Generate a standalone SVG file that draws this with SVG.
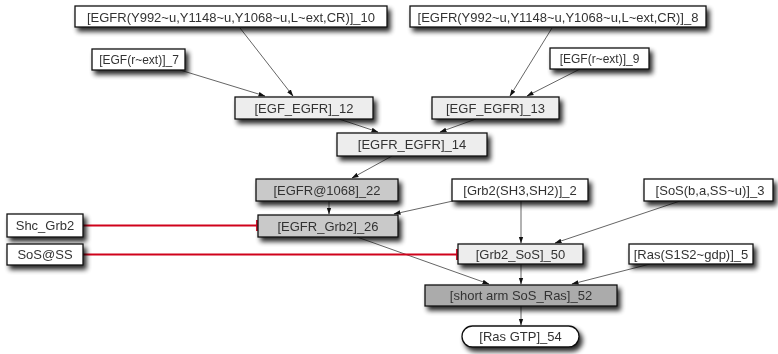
<svg xmlns="http://www.w3.org/2000/svg" width="778" height="354" viewBox="0 0 778 354">
<defs>
<filter id="sh" x="-20%" y="-40%" width="140%" height="200%">
<feGaussianBlur in="SourceAlpha" stdDeviation="2.4"/>
<feOffset dx="3" dy="4" result="b"/>
<feComponentTransfer><feFuncA type="linear" slope="0.85"/></feComponentTransfer>
<feMerge><feMergeNode/><feMergeNode in="SourceGraphic"/></feMerge>
</filter>
<marker id="ar" markerWidth="7" markerHeight="6" refX="6.5" refY="3" orient="auto" markerUnits="userSpaceOnUse">
<path d="M0,0.7 L7,3 L0,5.3 Z" fill="#111"/>
</marker>
</defs>
<style>
.n rect{stroke:#111;stroke-width:1.3}
.w{fill:#fff}
.l{fill:#ededed}
.m{fill:#c9c9c9}
.d{fill:#ababab}
text{font-family:"Liberation Sans",Arial,sans-serif;font-size:13px;fill:#333;text-anchor:middle;dominant-baseline:central}
.s{font-size:12px}
.e line{stroke:#222;stroke-width:0.7;marker-end:url(#ar)}
.r line{stroke:#d0021b;stroke-width:1.8;marker-end:none}
</style>
<rect width="778" height="354" fill="#fff"/>
<g class="e" id="connectors">
<line x1="240" y1="28" x2="293" y2="96"/>
<line x1="180" y1="70" x2="265" y2="96"/>
<line x1="552" y1="28" x2="510" y2="96"/>
<line x1="580" y1="69" x2="527" y2="96"/>
<line x1="339" y1="119" x2="378" y2="132"/>
<line x1="476" y1="119" x2="440" y2="132"/>
<line x1="392" y1="156" x2="352" y2="178"/>
<line x1="329" y1="201" x2="329" y2="214"/>
<line x1="453" y1="201" x2="394" y2="214"/>
<line x1="521" y1="201" x2="521" y2="243"/>
<line x1="680" y1="201" x2="555" y2="243"/>
<line x1="357" y1="237" x2="489" y2="284"/>
<line x1="521" y1="264" x2="521" y2="284"/>
<line x1="650" y1="264" x2="572" y2="284"/>
<line x1="521" y1="306" x2="521" y2="325"/>
<g class="r">
<line x1="83" y1="225.5" x2="257" y2="225.5"/>
<line x1="257" y1="220" x2="257" y2="231"/>
<line x1="83" y1="254.5" x2="457" y2="254.5"/>
<line x1="457" y1="249" x2="457" y2="260"/>
</g>
</g>
<g class="n" filter="url(#sh)">
<g id="n10"><rect class="w" x="75" y="6" width="312" height="21"/><text x="231" y="17">[EGFR(Y992~u,Y1148~u,Y1068~u,L~ext,CR)]_10</text></g>
<g id="n8"><rect class="w" x="410" y="6" width="296" height="21"/><text x="558" y="17">[EGFR(Y992~u,Y1148~u,Y1068~u,L~ext,CR)]_8</text></g>
<g id="n7"><rect class="w" x="92" y="49" width="93" height="21"/><text class="s" x="139" y="60">[EGF(r~ext)]_7</text></g>
<g id="n9"><rect class="w" x="550" y="48" width="99" height="21"/><text class="s" x="599.5" y="59">[EGF(r~ext)]_9</text></g>
<g id="n12"><rect class="l" x="235" y="97" width="138" height="22"/><text x="304" y="108">[EGF_EGFR]_12</text></g>
<g id="n13"><rect class="l" x="432" y="97" width="127" height="22"/><text x="495.5" y="108">[EGF_EGFR]_13</text></g>
<g id="n14"><rect class="l" x="337" y="133" width="150" height="23"/><text x="412" y="144.5">[EGFR_EGFR]_14</text></g>
<g id="n22"><rect class="m" x="256" y="179" width="142" height="22"/><text x="327" y="190">[EGFR@1068]_22</text></g>
<g id="n26"><rect class="m" x="258" y="215" width="140" height="22"/><text x="328" y="226">[EGFR_Grb2]_26</text></g>
<g id="n2"><rect class="w" x="452" y="179" width="136" height="22"/><text x="520" y="190">[Grb2(SH3,SH2)]_2</text></g>
<g id="n3"><rect class="w" x="644" y="179" width="129" height="22"/><text x="710" y="190">[SoS(b,a,SS~u)]_3</text></g>
<g id="shc"><rect class="w" x="7" y="214" width="76" height="23"/><text x="45" y="225.5">Shc_Grb2</text></g>
<g id="sos"><rect class="w" x="7" y="244" width="76" height="21"/><text x="45" y="254.5">SoS@SS</text></g>
<g id="n50"><rect class="l" x="458" y="244" width="125" height="20"/><text x="520.5" y="254">[Grb2_SoS]_50</text></g>
<g id="n5"><rect class="w" x="629" y="244" width="124" height="20"/><text x="691" y="254">[Ras(S1S2~gdp)]_5</text></g>
<g id="n52"><rect class="d" x="425" y="285" width="192" height="21"/><text x="521" y="295.5">[short arm SoS_Ras]_52</text></g>
<g id="n54"><rect class="w" x="462" y="326" width="117" height="21" rx="10.5" ry="10.5"/><text x="520.5" y="336.5">[Ras GTP]_54</text></g>
</g>
</svg>
